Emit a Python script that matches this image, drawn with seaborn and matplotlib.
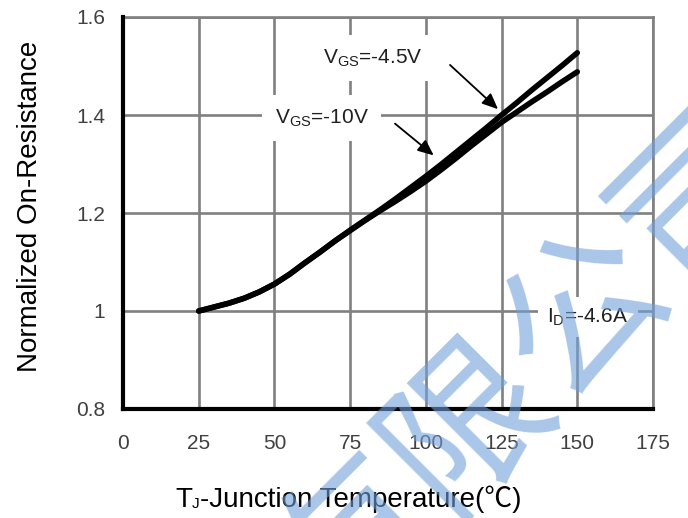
import matplotlib
matplotlib.use("Agg")
import matplotlib.pyplot as plt
import seaborn as sns
import pandas as pd

# ---- data ----
temps = [25, 30, 35, 40, 45, 50, 55, 60, 65, 70, 75, 80, 85, 90, 95,
         100, 105, 110, 115, 120, 125, 130, 135, 140, 145, 150]
r_vgs45 = [1.000, 1.008, 1.016, 1.026, 1.039, 1.055, 1.075, 1.098, 1.120, 1.143,
           1.165, 1.186, 1.207, 1.229, 1.252, 1.275, 1.299, 1.324, 1.349, 1.374,
           1.400, 1.425, 1.451, 1.476, 1.501, 1.527]
r_vgs10 = [1.000, 1.008, 1.016, 1.026, 1.039, 1.055, 1.075, 1.098, 1.120, 1.143,
           1.164, 1.185, 1.205, 1.224, 1.244, 1.265, 1.288, 1.312, 1.337, 1.361,
           1.385, 1.406, 1.427, 1.447, 1.468, 1.488]
series_names = ["VGS=-4.5V", "VGS=-10V"]
x_ticks = [0, 25, 50, 75, 100, 125, 150, 175]
y_ticks = [0.8, 1.0, 1.2, 1.4, 1.6]
y_ticklabels = ["0.8", "1", "1.2", "1.4", "1.6"]

df = pd.DataFrame({
    "T": temps * 2,
    "R": r_vgs45 + r_vgs10,
    "series": [series_names[0]] * len(temps) + [series_names[1]] * len(temps),
})

sns.set_theme(style="white")
FAM = ["Liberation Sans", "Noto Sans CJK SC", "DejaVu Sans"]
plt.rcParams["font.family"] = FAM
plt.rcParams["mathtext.fontset"] = "custom"
plt.rcParams["mathtext.rm"] = "Liberation Sans"
plt.rcParams["mathtext.it"] = "Liberation Sans:italic"
plt.rcParams["mathtext.bf"] = "Liberation Sans:bold"

W, H = 688, 518
fig = plt.figure(figsize=(W/100, H/100), dpi=100)
ax = fig.add_axes([123/W, 1-409/H, 530/W, 392/H])

GRID = "#808080"
ax.set_xlim(0, 175)
ax.set_ylim(0.8, 1.6)
ax.set_xticks(x_ticks)
ax.set_yticks(y_ticks)
ax.set_yticklabels(y_ticklabels)
ax.grid(True, color=GRID, linewidth=1.9, zorder=0)
ax.set_axisbelow(True)

sns.lineplot(data=df, x="T", y="R", hue="series", palette=["black", "black"],
             linewidth=4.0, legend=False, ax=ax, zorder=3)
for ln in ax.get_lines():
    ln.set_solid_capstyle("round")
    ln.set_solid_joinstyle("round")

for s in ["top", "right"]:
    ax.spines[s].set_color(GRID)
    ax.spines[s].set_linewidth(1.9)
for s in ["left", "bottom"]:
    ax.spines[s].set_color("black")
    ax.spines[s].set_linewidth(3.0)
    ax.spines[s].set_zorder(4)

ax.tick_params(axis="x", length=0, pad=18, labelsize=15, labelcolor="#404040")
ax.tick_params(axis="y", length=0, pad=13, labelsize=15, labelcolor="#404040")

ax.set_xlabel("")
ax.set_ylabel("Normalized On-Resistance", fontsize=20, color="black")
ax.yaxis.set_label_coords(-0.151, 0.518)

# x label with subscript, built from pieces
renderer = fig.canvas.get_renderer()

def measure(s, size):
    t = fig.text(0, 0, s, fontsize=size, family=FAM)
    w = t.get_window_extent(renderer=renderer).width
    t.remove()
    return w

pieces = [("T", 20, 0), ("J", 11, -1.5), ("-Junction Temperature(℃)", 20, 0)]
widths = [measure(p[0], p[1]) for p in pieces]
x0 = 348 - sum(widths) / 2
baseline = 507
for (s, size, dy), w in zip(pieces, widths):
    fig.text(x0 / W, (H - baseline + dy) / H, s, fontsize=size, family=FAM,
             ha="left", va="baseline", color="black")
    x0 += w

box = dict(boxstyle="square,pad=0.6", fc="white", ec="none")
ax.text(82.5, 1.516, "V$_\\mathregular{GS}$=-4.5V", fontsize=15, color="#202020",
        ha="center", va="center", bbox=box, zorder=2)
ax.text(65.7, 1.394, "V$_\\mathregular{GS}$=-10V", fontsize=15, color="#202020",
        ha="center", va="center", bbox=box, zorder=2)
ax.text(153.5, 0.988, "I$_\\mathregular{D}$=-4.6A", fontsize=15, color="#202020",
        ha="center", va="center", bbox=dict(boxstyle="square,pad=0.45", fc="white", ec="none"), zorder=2)

arrow = dict(arrowstyle="-|>,head_length=0.8,head_width=0.35", color="black", lw=1.3)
ax.annotate("", xy=(124.5, 1.408), xytext=(107.3, 1.506), arrowprops=arrow, zorder=5)
ax.annotate("", xy=(103.3, 1.314), xytext=(89.1, 1.386), arrowprops=arrow, zorder=5)

# watermark
fig.text(528/W, 1-372/H, "有限公司", fontsize=117, family=["Noto Sans CJK SC"],
         color="#709fd9", alpha=0.6, rotation=45, ha="center", va="center",
         rotation_mode="anchor", zorder=10)

fig.savefig("out.png", dpi=100, facecolor="white")
